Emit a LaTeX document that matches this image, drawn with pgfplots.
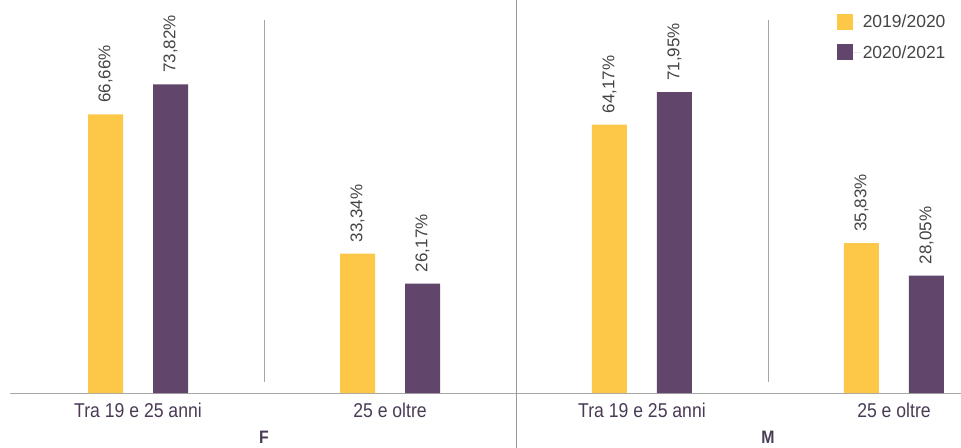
\documentclass[border=0pt]{standalone}
\usepackage{pgfplots}
\pgfplotsset{compat=1.18}
\usepackage{fontspec}
\setmainfont{Liberation Sans}
\newfontfamily\condfont{Liberation Sans}[FakeStretch=0.88]
\definecolor{cyel}{HTML}{FDC748}
\definecolor{cpur}{HTML}{61456A}
\definecolor{ctick}{HTML}{4A3A55}
\definecolor{cval}{HTML}{444444}
\begin{document}
\begin{tikzpicture}
\useasboundingbox (0,0) rectangle (961bp,448bp);
\begin{axis}[
  at={(10bp,55bp)}, anchor=south west,
  scale only axis, width=951bp, height=393bp,
  xmin=-0.508, xmax=3.266, ymin=0, ymax=94.0,
  clip=false,
  axis x line=bottom, axis y line=none,
  axis line style={gray!70, line width=0.8pt, -},
  ytick=\empty,
  xtick={0,1,2,3},
  xticklabels={Tra 19 e 25 anni, 25 e oltre, Tra 19 e 25 anni, 25 e oltre},
  xticklabel style={font=\condfont\fontsize{20bp}{21bp}\selectfont, text=ctick, yshift=-6bp},
  major tick length=0pt,
  ybar=30bp, bar width=35bp,
  point meta=explicit symbolic,
  nodes near coords,
  nodes near coords style={rotate=90, anchor=west, xshift=8bp, font=\fontsize{17bp}{18bp}\selectfont, text=cval},
  legend style={at={(rel axis cs:0.866,0.972)}, anchor=north west, draw=none, fill=none,
     font=\fontsize{17.5bp}{18bp}\selectfont, text=cval, row sep=12bp},
  legend cell align=left,
  legend image code/.code={\path (0bp,0bp) -- (24bp,0bp); \fill[#1] (0bp,-8bp) rectangle (16bp,8bp);},
]
\addplot[fill=cyel, draw=none] coordinates {
  (0,66.66) [66,66\%]
  (1,33.34) [33,34\%]
  (2,64.17) [64,17\%]
  (3,35.83) [35,83\%]
};
\addplot[fill=cpur, draw=none] coordinates {
  (0,73.82) [73,82\%]
  (1,26.17) [26,17\%]
  (2,71.95) [71,95\%]
  (3,28.05) [28,05\%]
};
\legend{2019/2020, 2020/2021}
\draw[gray!70, line width=0.6pt] (axis cs:0.5,2.6) -- (axis cs:0.5,89.2);
\draw[gray!70, line width=0.6pt] (axis cs:2.5,2.6) -- (axis cs:2.5,89.2);
\draw[gray!80, line width=0.8pt] (axis cs:1.5,-14) -- (axis cs:1.5,94.5);
\node[font=\condfont\bfseries\fontsize{18bp}{19bp}\selectfont, text=ctick] at (axis cs:0.5,-10.6) {F};
\node[font=\condfont\bfseries\fontsize{18bp}{19bp}\selectfont, text=ctick] at (axis cs:2.5,-10.6) {M};
\end{axis}
\end{tikzpicture}
\end{document}
